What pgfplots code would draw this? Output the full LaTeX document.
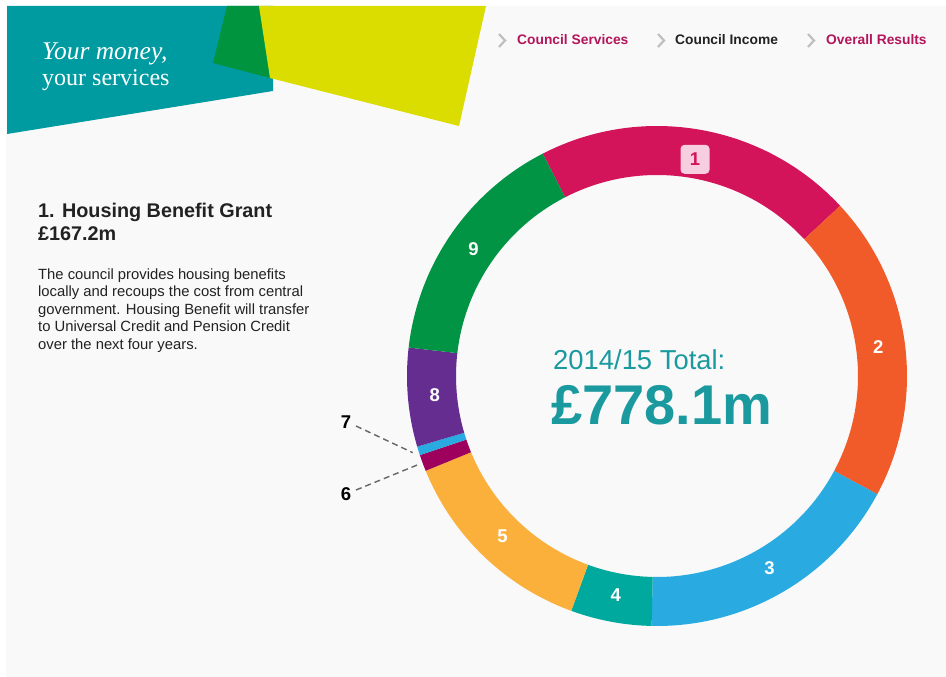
\documentclass[border=0pt]{standalone}
\usepackage{pgfplots}
\pgfplotsset{compat=1.18}
\usepackage{pgfplotstable}
\usetikzlibrary{calc}
\usepackage{fontspec}
\setmainfont{Liberation Sans}
\newfontfamily\seriffont{Liberation Serif}

\definecolor{c1}{HTML}{D4145A}
\definecolor{c2}{HTML}{F15A29}
\definecolor{c3}{HTML}{29ABE2}
\definecolor{c4}{HTML}{00A99D}
\definecolor{c5}{HTML}{FBB03B}
\definecolor{c6}{HTML}{9E005D}
\definecolor{c7}{HTML}{29ABE2}
\definecolor{c8}{HTML}{662D91}
\definecolor{c9}{HTML}{009444}
\definecolor{bg}{HTML}{F9F9F9}
\definecolor{hteal}{HTML}{009BA0}
\definecolor{hgreen}{HTML}{00943F}
\definecolor{hyellow}{HTML}{DBDC00}
\definecolor{navmag}{HTML}{B3165A}
\definecolor{totteal}{HTML}{1A9A9F}
\definecolor{pinkbox}{HTML}{F7CEDF}
\definecolor{bodytxt}{HTML}{222222}

\pgfplotstableread{
id value col
1 160.6 c1
2 153.7 c2
3 136.2 c3
4 40.7 c4
5 103.0 c5
6 8.3 c6
7 4.4 c7
8 49.6 c8
9 121.6 c9
}\donut

\newcommand\fs[1]{\fontsize{#1}{#1}\selectfont}

\begin{document}
\begin{tikzpicture}
\begin{axis}[x=1pt,y=1pt,xmin=0,xmax=946,ymin=0,ymax=677,y dir=reverse,hide axis,clip=false]
\pgfplotsextra{
  % background
  \fill[white] (axis cs:0,0) rectangle (axis cs:946,677);
  \fill[bg] (axis cs:6,6) rectangle (axis cs:946,677);
  % header shapes
  \fill[hteal] (axis cs:7,6) -- (axis cs:273,6) -- (axis cs:273,91) -- (axis cs:7,134) -- cycle;
  \fill[hgreen] (axis cs:227,6) -- (axis cs:259,6) -- (axis cs:270,78) -- (axis cs:213,63) -- cycle;
  \fill[hyellow] (axis cs:259,6) -- (axis cs:486,6) -- (axis cs:459,126) -- (axis cs:270,78) -- cycle;
  \node[anchor=base west,inner sep=0pt,text=white,font=\seriffont\itshape\fs{25.5}] at (axis cs:42,60) {Your money,};
  \node[anchor=base west,inner sep=0pt,text=white,font=\seriffont\fs{24}] at (axis cs:42,85) {your services};
  % nav
  \foreach \cx in {499,658,808}{
    \draw[black!25,line width=2.2pt] (axis cs:\cx,34) -- (axis cs:\cx+6,40.5) -- (axis cs:\cx,47);
  }
  \node[anchor=base west,inner sep=0pt,text=navmag,font=\bfseries\fs{13.8}] at (axis cs:517,45) {Council Services};
  \node[anchor=base west,inner sep=0pt,text=bodytxt,font=\bfseries\fs{13.8}] at (axis cs:675,45) {Council Income};
  \node[anchor=base west,inner sep=0pt,text=navmag,font=\bfseries\fs{13.8}] at (axis cs:826,45) {Overall Results};
  % left text
  \node[anchor=base west,inner sep=0pt,text=bodytxt,font=\bfseries\fs{19.8}] at (axis cs:38,217.5) {1. Housing Benefit Grant};
  \node[anchor=base west,inner sep=0pt,text=bodytxt,font=\bfseries\fs{19.8}] at (axis cs:38,240) {£167.2m};
  \node[anchor=base west,inner sep=0pt,text=bodytxt,font=\fs{14.8}] at (axis cs:38,279) {The council provides housing benefits};
  \node[anchor=base west,inner sep=0pt,text=bodytxt,font=\fs{14.8}] at (axis cs:38,296.5) {locally and recoups the cost from central};
  \node[anchor=base west,inner sep=0pt,text=bodytxt,font=\fs{14.8}] at (axis cs:38,314) {government. Housing Benefit will transfer};
  \node[anchor=base west,inner sep=0pt,text=bodytxt,font=\fs{14.8}] at (axis cs:38,331.5) {to Universal Credit and Pension Credit};
  \node[anchor=base west,inner sep=0pt,text=bodytxt,font=\fs{14.8}] at (axis cs:38,349) {over the next four years.};
  % donut
  \gdef\total{0}
  \foreach \i in {0,...,8}{%
    \pgfplotstablegetelem{\i}{value}\of\donut
    \pgfmathparse{\total+\pgfplotsretval}\xdef\total{\pgfmathresult}%
  }
  \gdef\cum{0}
  \foreach \i in {0,...,8}{%
    \pgfplotstablegetelem{\i}{value}\of\donut \let\segval\pgfplotsretval
    \pgfplotstablegetelem{\i}{col}\of\donut \let\segcol\pgfplotsretval
    \pgfplotstablegetelem{\i}{id}\of\donut \let\segid\pgfplotsretval
    \pgfmathsetmacro\sa{117.2-\cum/\total*360}
    \pgfmathsetmacro\sb{117.2-(\cum+\segval)/\total*360}
    \pgfmathsetmacro\sm{(\sa+\sb)/2}
    \fill[fill=\segcol] ($(axis cs:657,376)+(\sa:250pt)$) arc[start angle=\sa,end angle=\sb,radius=250pt]
       -- ($(axis cs:657,376)+(\sb:201pt)$) arc[start angle=\sb,end angle=\sa,radius=201pt] -- cycle;
    \ifnum\i=0
      \node[fill=pinkbox,rounded corners=4pt,minimum size=29pt,inner sep=0pt,text=c1,font=\bfseries\fs{18.5}] at ($(axis cs:657,376)+(\sm:220pt)$) {\segid};
    \else\ifnum\i=5
      \draw[black!60,line width=1.4pt,dash pattern=on 6pt off 4pt] (axis cs:356,490) -- ($(axis cs:657,376)+(\sm:256pt)$);
      \node[text=black,font=\bfseries\fs{18.5},inner sep=0pt] at (axis cs:346,494) {\segid};
    \else\ifnum\i=6
      \draw[black!60,line width=1.4pt,dash pattern=on 6pt off 4pt] (axis cs:356,426) -- ($(axis cs:657,376)+(\sm:256pt)$);
      \node[text=black,font=\bfseries\fs{18.5},inner sep=0pt] at (axis cs:346,422) {\segid};
    \else
      \node[text=white,font=\bfseries\fs{18.5},inner sep=0pt] at ($(axis cs:657,376)+(\sm:223pt)$) {\segid};
    \fi\fi\fi
    \pgfmathparse{\cum+\segval}\xdef\cum{\pgfmathresult}%
  }
  % centre text
  \node[anchor=base west,inner sep=0pt,text=totteal,font=\fs{27.4}] at (axis cs:553,369) {2014/15 Total:};
  \node[anchor=base west,inner sep=0pt,text=totteal,font=\bfseries\fs{56}] at (axis cs:551,424) {£778.1m};
}
\end{axis}
\end{tikzpicture}
\end{document}
